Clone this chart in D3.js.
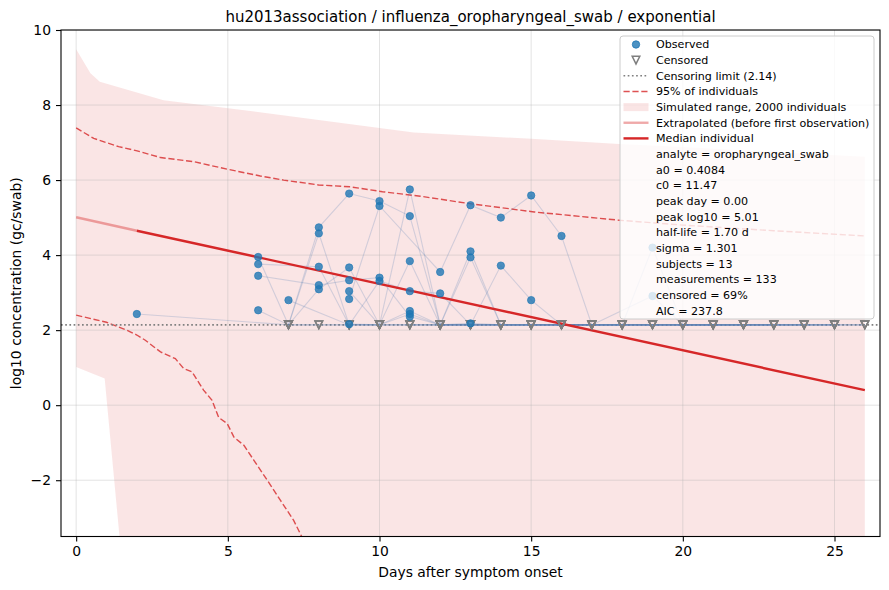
<!DOCTYPE html>
<html>
<head>
<meta charset="utf-8">
<script src="https://cdn.jsdelivr.net/npm/d3@7"></script>
<style>
  body { margin: 0; background: #fff; }
  text { font-family: "DejaVu Sans", sans-serif; }
</style>
</head>
<body>
<svg id="chart" width="889" height="590"></svg>
<script>
// --- data ---
const titleText = "hu2013association / influenza_oropharyngeal_swab / exponential";
const xTicks = [0, 5, 10, 15, 20, 25];
const yTicks = [-2, 0, 2, 4, 6, 8, 10];
const censorLimit = 2.14;

// simulated range (2000 individuals)
const bandUpperDays = [0, 0.47, 0.78, 2.88, 5.74, 10, 11.13, 15, 17.9, 20, 23, 26];
const bandUpper     = [9.49, 8.85, 8.62, 8.13, 7.84, 7.39, 7.27, 7.10, 6.96, 6.88, 6.75, 6.62];
const bandLowerDays = [0, 0.94, 1.43, 1.6, 26];
const bandLower     = [1.02, 0.71, -3.51, -5, -5];

// 95% of individuals
const upper95Days = [0, 0.58, 1.4, 2.01, 2.78, 3.88, 4.98, 6.07, 6.84, 7.99, 9.04, 10.1, 11.35, 12.9, 15.1, 17.9, 20, 23, 26];
const upper95     = [7.39, 7.11, 6.89, 6.78, 6.60, 6.49, 6.29, 6.11, 6.0, 5.87, 5.82, 5.69, 5.57, 5.38, 5.15, 4.93, 4.80, 4.65, 4.51];
const lower95Days = [0, 1, 1.67, 2, 2.28, 2.78, 3.27, 3.54, 3.82, 4.2, 4.48, 4.7, 4.98, 5.2, 5.53, 5.86, 6.3, 6.73, 7.17, 7.44, 8];
const lower95     = [2.40, 2.21, 2.00, 1.87, 1.73, 1.42, 1.24, 0.98, 0.89, 0.40, 0.13, -0.33, -0.49, -0.85, -1.07, -1.47, -2.0, -2.53, -3.07, -3.51, -4.2];

// median individual
const extrapDays = [0, 2];
const extrapVals = [5.01, 4.65];
const medianDays = [2, 26];
const medianVals = [4.65, 0.40];

// subjects: [day, log10 value]; null = below censoring limit
const subjects = [
  [[2, 2.43], [7, null], [8, null], [9, null], [10, null], [11, null], [12, null], [14, null], [16, null], [18, null], [20, null]],
  [[6, 3.95], [7, null], [8, 4.58], [9, null], [10, null], [11, 2.51], [12, null], [14, null], [16, null], [18, null], [21, null]],
  [[6, 3.76], [8, 3.69], [9, null], [10, null], [11, 2.43], [12, null], [13, null], [14, null], [15, null], [17, null], [20, null], [22, null]],
  [[6, 3.45], [8, 3.20], [9, 3.33], [10, 3.40], [11, 2.36], [12, null], [13, 4.10], [14, null], [15, null], [16, null], [19, null], [23, null]],
  [[6, 2.53], [7, null], [8, 3.09], [9, 3.67], [10, null], [11, 3.84], [12, null], [13, 3.94], [14, null], [15, null], [17, null], [21, null], [24, null]],
  [[7, 2.80], [9, null], [10, 3.31], [11, 3.04], [12, 2.98], [13, null], [14, 3.72], [15, 2.80], [16, null], [17, null], [18, null], [22, null], [25, null]],
  [[7, null], [8, 4.74], [9, 5.64], [10, 5.44], [11, 5.04], [12, null], [13, null], [14, null], [16, null], [18, null], [20, null], [23, null]],
  [[9, 3.04], [10, null], [11, 5.75], [12, null], [13, 2.18], [14, null], [15, null], [17, null], [19, null], [21, null], [24, null]],
  [[9, 2.83], [10, 5.31], [12, 3.55], [13, 5.33], [14, 5.00], [15, 5.59], [16, 4.51], [17, null], [18, null], [20, null], [22, null], [26, null]],
  [[9, 2.16], [10, null], [11, null], [12, null], [13, null], [15, null], [17, null], [19, null], [21, null], [23, null], [25, null]],
  [[11, null], [12, null], [14, null], [16, null], [18, null], [19, 4.20], [20, null], [22, null], [24, null], [26, null]],
  [[12, null], [13, null], [15, null], [16, null], [17, null], [19, 2.91], [20, null], [21, null], [23, null], [25, null]],
  [[7, null], [8, null], [9, null], [10, null], [11, null], [12, null], [13, null], [14, null], [15, null], [16, null], [17, null],
   [18, null], [19, null], [20, null], [21, null], [22, null], [23, null], [24, null], [25, null], [26, null]]
];

const legendItems = [
  { key: "obs", label: "Observed" },
  { key: "cens", label: "Censored" },
  { key: "limit", label: "Censoring limit (2.14)" },
  { key: "p95", label: "95% of individuals" },
  { key: "band", label: "Simulated range, 2000 individuals" },
  { key: "extrap", label: "Extrapolated (before first observation)" },
  { key: "median", label: "Median individual" }
];
const statLines = [
  "analyte = oropharyngeal_swab", "a0 = 0.4084", "c0 = 11.47", "peak day = 0.00",
  "peak log10 = 5.01", "half-life = 1.70 d", "sigma = 1.301", "subjects = 13",
  "measurements = 133", "censored = 69%", "AIC = 237.8"
];

// --- drawing ---
const m = { left: 61, right: 880, top: 30, bottom: 536.5 };
const red = "#d62728", blue = "#1f77b4";

const svg = d3.select("#chart");
const x = d3.scaleLinear().domain([-0.5, 26.5]).range([m.left, m.right]);
const y = d3.scaleLinear().domain([-3.5, 10]).range([m.bottom, m.top]);
const fmt = d => d < 0 ? "\u2212" + Math.abs(d) : String(d);

svg.append("defs").append("clipPath").attr("id", "clip")
  .append("rect").attr("x", m.left).attr("y", m.top)
  .attr("width", m.right - m.left).attr("height", m.bottom - m.top);

const plot = svg.append("g").attr("clip-path", "url(#clip)");
const line = d3.line().x(d => x(d[0])).y(d => y(d[1]));
const zip = (a, b) => a.map((d, i) => [d, b[i]]);

// band
const bandPts = zip(bandUpperDays, bandUpper).concat(zip(bandLowerDays, bandLower).reverse());
plot.append("path").attr("d", line(bandPts) + "Z")
  .attr("fill", red).attr("fill-opacity", 0.12);

// grid
plot.selectAll(".gx").data(xTicks).enter().append("line")
  .attr("x1", d => x(d)).attr("x2", d => x(d)).attr("y1", m.top).attr("y2", m.bottom)
  .attr("stroke", "#b0b0b0").attr("stroke-opacity", 0.35).attr("stroke-width", 1);
plot.selectAll(".gy").data(yTicks).enter().append("line")
  .attr("y1", d => y(d)).attr("y2", d => y(d)).attr("x1", m.left).attr("x2", m.right)
  .attr("stroke", "#b0b0b0").attr("stroke-opacity", 0.35).attr("stroke-width", 1);

// 95% lines
[zip(upper95Days, upper95), zip(lower95Days, lower95)].forEach(pts => {
  plot.append("path").attr("d", line(pts)).attr("fill", "none")
    .attr("stroke", red).attr("stroke-opacity", 0.8).attr("stroke-width", 1.4)
    .attr("stroke-dasharray", "6.2,2.7");
});

// censoring limit
plot.append("line").attr("x1", m.left).attr("x2", m.right)
  .attr("y1", y(censorLimit)).attr("y2", y(censorLimit))
  .attr("stroke", "#808080").attr("stroke-width", 1.6).attr("stroke-dasharray", "1.7,2.5");

// subject trajectories
const subjPts = subjects.map(s => s.map(d => [d[0], d[1] === null ? censorLimit : d[1], d[1] === null]));
plot.selectAll(".subj").data(subjPts).enter().append("path")
  .attr("d", d => line(d)).attr("fill", "none")
  .attr("stroke", "#5b82b8").attr("stroke-opacity", 0.25).attr("stroke-width", 1.1);

// median + extrapolated
plot.append("path").attr("d", line(zip(extrapDays, extrapVals))).attr("fill", "none")
  .attr("stroke", red).attr("stroke-opacity", 0.4).attr("stroke-width", 2.4);
plot.append("path").attr("d", line(zip(medianDays, medianVals))).attr("fill", "none")
  .attr("stroke", red).attr("stroke-width", 2.4);

// markers
const allPts = subjPts.flat();
const tri = s => `M${-s},${-s}L${s},${-s}L0,${s}Z`;
plot.selectAll(".cens").data(allPts.filter(d => d[2])).enter().append("path")
  .attr("d", tri(3.8)).attr("transform", d => `translate(${x(d[0])},${y(d[1])})`)
  .attr("fill", "none").attr("stroke", "#7f7f7f").attr("stroke-width", 1.5);
plot.selectAll(".obs").data(allPts.filter(d => !d[2])).enter().append("circle")
  .attr("cx", d => x(d[0])).attr("cy", d => y(d[1])).attr("r", 3.7)
  .attr("fill", blue).attr("fill-opacity", 0.8)
  .attr("stroke", blue).attr("stroke-opacity", 0.8).attr("stroke-width", 0.8);

// axes
const xAxis = svg.append("g").attr("transform", `translate(0,${m.bottom})`)
  .call(d3.axisBottom(x).tickValues(xTicks).tickSize(5).tickPadding(5).tickFormat(fmt));
const yAxis = svg.append("g").attr("transform", `translate(${m.left},0)`)
  .call(d3.axisLeft(y).tickValues(yTicks).tickSize(5).tickPadding(5).tickFormat(fmt));
[xAxis, yAxis].forEach(a => {
  a.select(".domain").remove();
  a.selectAll("text").attr("font-size", 13.9).attr("fill", "#000")
    .style("font-family", "'DejaVu Sans', sans-serif");
  a.selectAll("line").attr("stroke", "#000").attr("stroke-width", 1.1);
});
svg.append("rect").attr("x", m.left).attr("y", m.top)
  .attr("width", m.right - m.left).attr("height", m.bottom - m.top)
  .attr("fill", "none").attr("stroke", "#000").attr("stroke-width", 1.1);

svg.append("text").attr("x", (m.left + m.right) / 2).attr("y", 22)
  .attr("text-anchor", "middle").attr("font-size", 15).text(titleText);
svg.append("text").attr("x", (m.left + m.right) / 2).attr("y", 577)
  .attr("text-anchor", "middle").attr("font-size", 13.9).text("Days after symptom onset");
svg.append("text").attr("transform", `translate(21,${(m.top + m.bottom) / 2}) rotate(-90)`)
  .attr("text-anchor", "middle").attr("font-size", 13.9).text("log10 concentration (gc/swab)");

// legend
const lg = svg.append("g");
const lgX = 620, lgY = 36, lgW = 254, lgH = 283, rowH = 15.65, row0 = 44.5;
lg.append("rect").attr("x", lgX).attr("y", lgY).attr("width", lgW).attr("height", lgH)
  .attr("rx", 3).attr("fill", "#fff").attr("fill-opacity", 0.8)
  .attr("stroke", "#cccccc").attr("stroke-width", 1);
const hx0 = 623.5, hx1 = 648.5, hxc = 636, tx = 656;
legendItems.forEach((it, i) => {
  const cy = row0 + i * rowH;
  const g = lg.append("g");
  if (it.key === "obs") {
    g.append("circle").attr("cx", hxc).attr("cy", cy).attr("r", 3.7)
      .attr("fill", blue).attr("fill-opacity", 0.8).attr("stroke", blue).attr("stroke-opacity", 0.8);
  } else if (it.key === "cens") {
    g.append("path").attr("d", tri(3.8)).attr("transform", `translate(${hxc},${cy})`)
      .attr("fill", "none").attr("stroke", "#7f7f7f").attr("stroke-width", 1.5);
  } else if (it.key === "band") {
    g.append("rect").attr("x", hx0).attr("y", cy - 4).attr("width", hx1 - hx0).attr("height", 8)
      .attr("fill", red).attr("fill-opacity", 0.12);
  } else {
    const st = {
      limit: ["#808080", 1, 1.6, "1.7,2.5"],
      p95: [red, 0.8, 1.4, "6.2,2.7"],
      extrap: [red, 0.4, 2.4, null],
      median: [red, 1, 2.4, null]
    }[it.key];
    g.append("line").attr("x1", hx0).attr("x2", hx1).attr("y1", cy).attr("y2", cy)
      .attr("stroke", st[0]).attr("stroke-opacity", st[1]).attr("stroke-width", st[2])
      .attr("stroke-dasharray", st[3]);
  }
  lg.append("text").attr("x", tx).attr("y", cy).attr("dy", "0.36em")
    .attr("font-size", 11.1).text(it.label);
});
statLines.forEach((s, i) => {
  lg.append("text").attr("x", tx).attr("y", row0 + (legendItems.length + i) * rowH)
    .attr("dy", "0.36em").attr("font-size", 11.1).text(s);
});
</script>
</body>
</html>
